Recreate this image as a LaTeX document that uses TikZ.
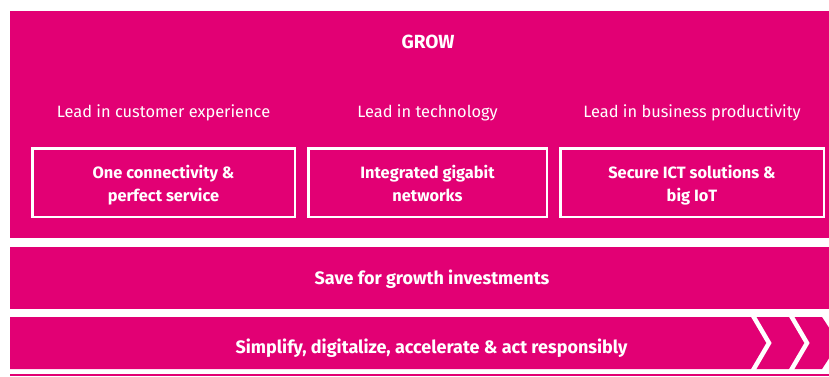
\documentclass[tikz,border=0pt]{standalone}
\usepackage{fontspec}
\setmainfont{Fira Sans}
\usetikzlibrary{positioning,calc}
\definecolor{telemagenta}{HTML}{E20074}

\begin{document}
\begin{tikzpicture}[x=1pt,y=-1pt,
  lead/.style={text=white,font=\fontsize{16.4}{19}\selectfont},
  pillar/.style={draw=white,line width=2.5pt,minimum height=68.5pt},
  pillartext/.style={text=white,align=center,font=\bfseries\fontsize{16.4}{23}\selectfont,
    execute at begin node=\strut,execute at end node=\strut},
  bandtext/.style={text=white,font=\bfseries\fontsize{18}{21}\selectfont}]
  \useasboundingbox (0,0) rectangle (829,376);
  \clip (0,0) rectangle (829,376);

  % Grow panel
  \fill[telemagenta] (10,11) rectangle (829,238);
  \node[bandtext,font=\bfseries\fontsize{19}{22}\selectfont] (grow) at (428,42) {GROW};

  % Three pillars
  \foreach \name/\x/\w/\lead/\txt in {
      cx/163.5/262.5/Lead in customer experience/{One connectivity \&\\perfect service},
      tech/427.5/238.5/Lead in technology/{Integrated gigabit\\networks},
      prod/692/263.5/Lead in business productivity/{Secure ICT solutions \&\\big IoT}} {
    \node[lead] (lead-\name) at (\x,113) {\lead};
    \node[pillar,minimum width=\w pt] (box-\name) at (\x,182.5) {};
    \node[pillartext] (txt-\name) at ($(box-\name)+(0,4.5)$) {\txt};
  }

  % Save band
  \fill[telemagenta] (10,247) rectangle (829,308.5);
  \node[bandtext] (save) at (432,279) {Save for growth investments};

  % Arrow band with chevrons
  \fill[telemagenta] (10,317) -- (822,317) -- (839,343) -- (822,369) -- (10,369) -- cycle;
  \foreach \cx in {752,790}
    \draw[white,line width=4.5pt] (\cx,314) -- (\cx+17,343) -- (\cx,372);
  \node[bandtext] (simplify) at (431.5,348) {Simplify, digitalize, accelerate \& act responsibly};

  % next band, cut off
  \fill[telemagenta] (10,374) rectangle (829,376);
\end{tikzpicture}
\end{document}
